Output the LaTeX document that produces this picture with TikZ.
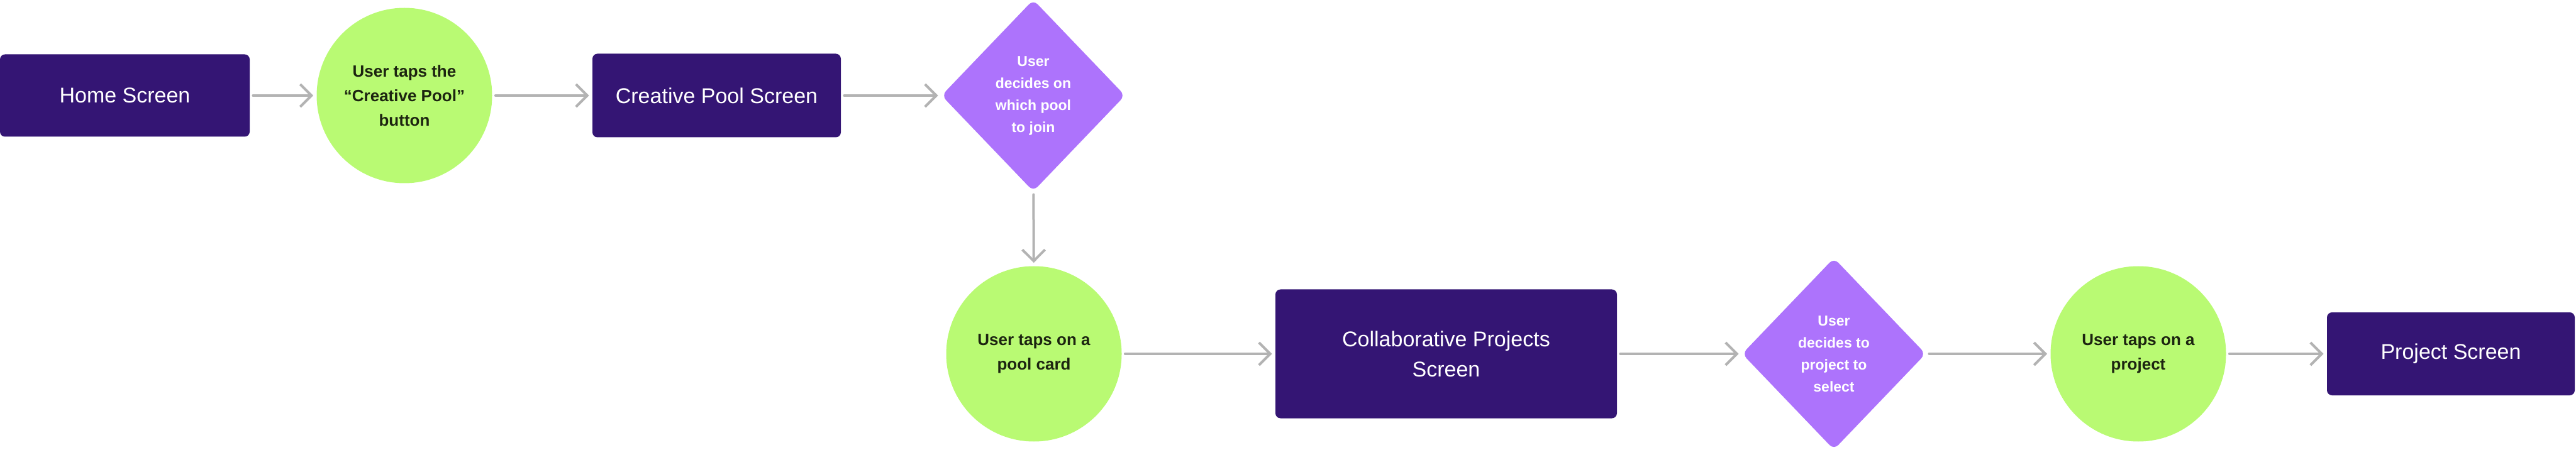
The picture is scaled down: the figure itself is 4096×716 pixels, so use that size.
\documentclass[tikz,border=0pt]{standalone}
\usepackage{fontspec}
\setmainfont{Liberation Sans}
\usetikzlibrary{shapes.geometric,arrows.meta}
\definecolor{scr}{HTML}{341574}
\definecolor{grn}{HTML}{B9FA73}
\definecolor{vio}{HTML}{AD73FC}
\definecolor{arr}{HTML}{B3B3B3}
\definecolor{gtxt}{HTML}{1C2410}
\begin{document}
\begin{tikzpicture}[x=0.5pt,y=-0.5pt,
 screen/.style={fill=scr, rounded corners=4pt, text=white, font=\fontsize{17}{24}\selectfont, align=center, inner sep=0pt},
 act/.style={circle, fill=grn, minimum size=139.5pt, inner sep=0pt, text=gtxt, font=\bfseries\fontsize{13}{19.5}\selectfont, align=center},
 dec/.style={diamond, fill=vio, rounded corners=5pt, inner sep=0pt, minimum width=146pt, minimum height=152.5pt},
 dtext/.style={text=white, font=\bfseries\fontsize{11.5}{17.5}\selectfont, align=center},
 flow/.style={draw=arr, line width=2pt, line cap=round, -{Straight Barb[length=9pt,width=18pt]}, shorten >=2.5pt, shorten <=2.5pt}]
\useasboundingbox (0,0) rectangle (4096,716);
\node[screen, minimum width=198.5pt, minimum height=65.5pt] (home) at (198.5,152) {Home Screen};
\node[act] (c1) at (643,152) {User taps the\\“Creative Pool”\\button};
\node[screen, minimum width=197.5pt, minimum height=66.5pt] (cps) at (1139.5,152) {Creative Pool Screen};
\node[dec] (d1) at (1643,152) {};
\node[dtext] (d1t) at (d1) {User\\decides on\\which pool\\to join};
\node[act] (c2) at (1644,563) {User taps on a\\pool card};
\node[screen, minimum width=271.5pt, minimum height=102.5pt] (collab) at (2299.5,563) {Collaborative Projects\\Screen};
\node[dec] (d2) at (2916,563) {};
\node[dtext] (d2t) at (d2) {User\\decides to\\project to\\select};
\node[act] (c3) at (3400,563) {User taps on a\\project};
\node[screen, minimum width=197pt, minimum height=66pt] (proj) at (3897,563) {Project Screen};
\draw[flow] (home) -- (c1);
\draw[flow] (c1) -- (cps);
\draw[flow] (cps) -- (d1);
\draw[flow] (d1) -- (c2);
\draw[flow] (c2) -- (collab);
\draw[flow] (collab) -- (d2);
\draw[flow] (d2) -- (c3);
\draw[flow] (c3) -- (proj);
\end{tikzpicture}
\end{document}
